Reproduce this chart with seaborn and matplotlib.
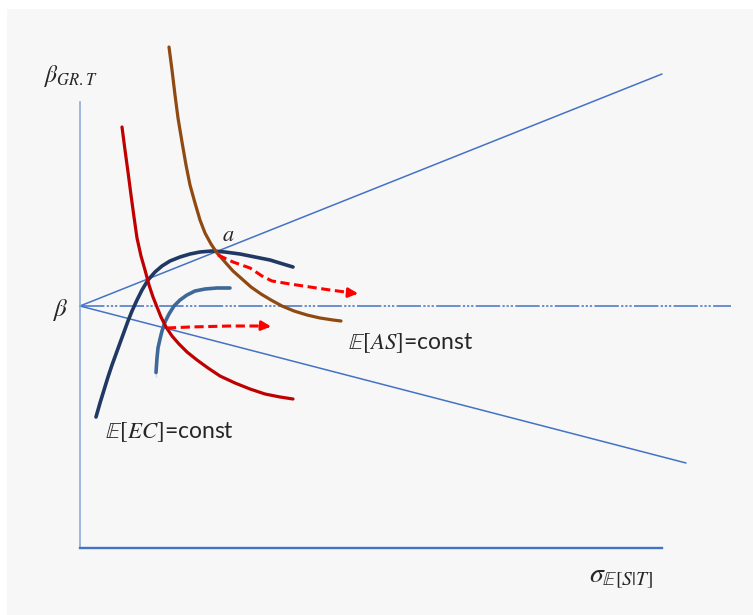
import matplotlib
matplotlib.use("Agg")
import matplotlib.pyplot as plt
import seaborn as sns
import pandas as pd

# Schematic curves in the (sigma, beta) plane; origin at the axis corner
brown_x = [89, 92, 95, 98, 102, 106, 110, 115, 120, 125, 131, 137, 145, 153,
           162, 171, 181, 191, 202, 214, 227, 240, 253, 261]
brown_y = [501, 478, 453, 430, 406, 383, 363, 345, 328, 315, 304, 295, 286, 277,
           269, 261, 254, 248, 242, 237, 233, 230, 228, 227]

red_x = [42, 45, 48, 51, 54, 57, 61, 65, 69, 73, 77, 81, 86, 92, 99, 107, 117,
         128, 140, 155, 170, 185, 200, 213]
red_y = [421, 398, 376, 353, 331, 310, 292, 278, 263, 251, 241, 231, 221, 212,
         204, 196, 188, 180, 172, 165, 159, 154, 151, 149]

navy_x = [16, 20, 24, 28, 32, 36, 40, 44, 48, 52, 57, 62, 68, 75, 82, 90, 100,
          110, 120, 132, 145, 160, 175, 190, 203, 213]
navy_y = [131, 145, 158, 171, 183, 194, 205, 216, 227, 237, 248, 258, 268, 276,
          282, 287, 291, 294, 296, 297, 296, 294, 291, 288, 284, 281]

blue_x = [76, 76, 77, 78, 80, 82, 85, 89, 94, 100, 107, 115, 125, 137, 150]
blue_y = [171, 180, 190, 200, 209, 217, 226, 234, 242, 248, 253, 257, 259, 260, 260]

shift_a_x = [138, 153, 170, 182, 192, 210, 230, 250, 273]
shift_a_y = [293, 286, 280, 272, 267, 264, 261, 258, 255]

shift_b_x = [87, 110, 150, 186]
shift_b_y = [220, 221, 222, 222]

beta0 = 242
upper_ray_end = (582, 474)
lower_ray_end = (606, 85)
beta_line_end = 651

x_max, y_max = 582, 446

sns.set_theme(style="white")
plt.rcParams["font.family"] = ["Lato", "DejaVu Sans"]
plt.rcParams["mathtext.fontset"] = "stix"

W, H = 753, 615
fig = plt.figure(figsize=(W / 100, H / 100), dpi=100, facecolor="white")
# grey canvas
bg = fig.add_axes([7 / W, 0, 1 - 7 / W, 1 - 9 / H])
bg.set_facecolor("#f7f7f7")
bg.set_xticks([]); bg.set_yticks([])
for s in bg.spines.values():
    s.set_visible(False)

ax = fig.add_axes([80 / W, (H - 548) / H, x_max / W, y_max / H])
ax.patch.set_alpha(0)
ax.set_xlim(0, x_max)
ax.set_ylim(0, y_max)
ax.set_xticks([]); ax.set_yticks([])
sns.despine(ax=ax)
ax.spines["left"].set_color("#8eaadb")
ax.spines["left"].set_linewidth(1.2)
ax.spines["bottom"].set_color("#4472c4")
ax.spines["bottom"].set_linewidth(1.7)

ray_c = "#4472c4"
ax.plot([0, upper_ray_end[0]], [beta0, upper_ray_end[1]], color=ray_c, lw=1.1, clip_on=False)
ax.plot([0, lower_ray_end[0]], [beta0, lower_ray_end[1]], color=ray_c, lw=1.1, clip_on=False)
ax.plot([0, beta_line_end], [beta0, beta0], color=ray_c, lw=1.1, clip_on=False,
        dashes=[16, 1.5, 1.5, 1.2, 1.5, 1.2, 1.5, 1.5])

def curve(xs, ys, color, lw, **kw):
    df = pd.DataFrame({"x": xs, "y": ys})
    sns.lineplot(data=df, x="x", y="y", sort=False, ax=ax, color=color, lw=lw,
                 clip_on=False, **kw)

curve(navy_x, navy_y, "#1f3864", 2.6)
curve(blue_x, blue_y, "#3d6897", 2.6)
curve(red_x, red_y, "#c00000", 2.3)
curve(brown_x, brown_y, "#8e4a12", 2.3)
curve(shift_a_x, shift_a_y, "#ff0000", 2.2, linestyle=(0, (3, 1.5)))
curve(shift_b_x, shift_b_y, "#ff0000", 2.2, linestyle=(0, (3, 1.5)))

for xs, ys in [(shift_a_x, shift_a_y), (shift_b_x, shift_b_y)]:
    ax.annotate("", xy=(xs[-1] + 5, ys[-1] - 0.5), xytext=(xs[-1] - 1, ys[-1]),
                arrowprops=dict(arrowstyle="-|>", color="#ff0000", lw=2,
                                mutation_scale=14, shrinkA=0, shrinkB=0),
                annotation_clip=False)

ax.set_xlabel(""); ax.set_ylabel("")

ax.text(148, 313, r"$a$", fontsize=16, ha="center", va="center")
ax.text(-20, 238, r"$\beta$", fontsize=18, ha="center", va="center")
ax.text(-9, 472, r"$\beta_{GR.T}$", fontsize=17, ha="center", va="center")
ax.text(268, 205, r"$\mathbb{E}[AS]$=const", fontsize=16.5, ha="left", va="center")
ax.text(25, 116, r"$\mathbb{E}[EC]$=const", fontsize=16.5, ha="left", va="center")
ax.text(541, -30, r"$\sigma_{\mathbb{E}[S|T]}$", fontsize=20, ha="center", va="center")

fig.savefig("out.png", dpi=100, facecolor="white")
